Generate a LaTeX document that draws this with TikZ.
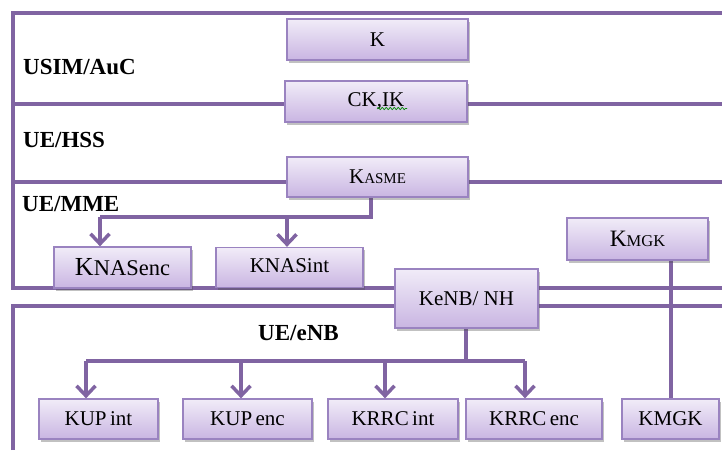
\documentclass[tikz,border=0pt]{standalone}
\usepackage{fontspec}
\setmainfont{LiberationSerif}[Extension=.ttf, UprightFont=*-Regular, BoldFont=*-Bold, ItalicFont=*-Italic, BoldItalicFont=*-BoldItalic]
\usetikzlibrary{arrows.meta,shadows,backgrounds,decorations.pathmorphing}
\definecolor{keyline}{HTML}{8064A2}
\definecolor{keyedge}{HTML}{9A83C0}
\definecolor{keytop}{HTML}{F1ECF8}
\definecolor{keybot}{HTML}{C9B5E2}
\newcommand{\fsz}[1]{\fontsize{#1}{#1}\selectfont}

\begin{document}
\begin{tikzpicture}[x=1pt,y=-1pt,
  keybox/.style={draw=keyedge, line width=1.3pt, top color=keytop, bottom color=keybot,
    inner sep=0pt, font=\rmfamily\fsz{21},
    drop shadow={shadow xshift=2pt, shadow yshift=-2.5pt, opacity=0.35, fill=black!70}},
  layer/.style={font=\rmfamily\bfseries\fsz{23}, anchor=base west, inner sep=0pt},
  wire/.style={draw=keyline, line width=3.5pt},
  feed/.style={wire, -{Straight Barb[length=10pt,width=19pt]}}
]
\useasboundingbox (0,0) rectangle (722,450);

% key boxes
\node[keybox, minimum width=181pt, minimum height=41pt] (k)     at (377.5,39.5) {K};
\node[keybox, minimum width=182pt, minimum height=41pt] (ckik)  at (376,101.5) {CK,IK};
\node[keybox, minimum width=181pt, minimum height=40pt] (kasme) at (377.5,177) {K{\fsz{15}ASME}};
\node[keybox, minimum width=137pt, minimum height=41pt] (nasenc) at (122.5,267.5) {{\fsz{26}K}{\fsz{22.5}NASenc}};
\node[keybox, minimum width=147pt, minimum height=40pt] (nasint) at (289.5,267.5) {\raisebox{4pt}{KNASint}};
\node[keybox, minimum width=141pt, minimum height=42pt] (mgktop) at (637.5,239) {{\fsz{23.5}K}{\fsz{16.5}MGK}};
\node[keybox, minimum width=143pt, minimum height=59pt] (kenb)  at (466.5,298.5) {KeNB/ NH};
\node[keybox, minimum width=119pt, minimum height=40pt] (upint) at (98.5,419) {KUP\,int};
\node[keybox, minimum width=129pt, minimum height=40pt] (upenc) at (247.5,419) {KUP\,enc};
\node[keybox, minimum width=130pt, minimum height=40pt] (rrcint) at (393,419) {KRRC\,int};
\node[keybox, minimum width=136pt, minimum height=40pt] (rrcenc) at (534,419) {KRRC\,enc};
\node[keybox, minimum width=97pt, minimum height=40pt] (mgkbot) at (670.5,419) {KMGK};

% spell-check squiggle under ",IK"
\draw[green!55!black, line width=0.7pt, decorate,
  decoration={snake, amplitude=1.2pt, segment length=4pt}]
  ([xshift=1pt,yshift=-7pt]ckik.center) -- ([xshift=31pt,yshift=-7pt]ckik.center);

% layer names
\node[layer] (lusim) at (23,74)  {USIM/AuC};
\node[layer] (lhss)  at (23,147) {UE/HSS};
\node[layer] (lmme)  at (22,211) {UE/MME};
\node[layer] (lenb)  at (258,340) {UE/eNB};

\begin{scope}[on background layer]
  % frame of the upper domains
  \path[wire] (722,13) -- (13,13) -- (13,288) -- (kenb.west |- 0,288);
  \path[wire] (kenb.east |- 0,288) -- (722,288);
  \path[wire] (13,104) -- (ckik.west |- 0,104);
  \path[wire] (ckik.east |- 0,104) -- (722,104);
  \path[wire] (13,182) -- (kasme.west |- 0,182);
  \path[wire] (kasme.east |- 0,182) -- (722,182);
  % frame of the eNB domain
  \path[wire] (13,450) -- (13,306) -- (kenb.west |- 0,306);
  \path[wire] (kenb.east |- 0,306) -- (722,306);
  % KASME derivations
  \coordinate (ka) at (371,217);
  \path[wire] (kasme.south -| ka) -- (ka) -- (100,217);
  \path[feed] (100,217) -- (nasenc.north -| 100,0);
  \path[feed] (287,217) -- (nasint.north -| 287,0);
  % KeNB derivations
  \coordinate (kb) at (466,361);
  \path[wire] (kenb.south -| kb) -- (kb);
  \path[wire] (86,361) -- (525,361);
  \path[feed] (86,361)  -- (upint.north -| 86,0);
  \path[feed] (241,361) -- (upenc.north -| 241,0);
  \path[feed] (385,361) -- (rrcint.north -| 385,0);
  \path[feed] (525,361) -- (rrcenc.north -| 525,0);
  % KMGK link
  \path[wire] (mgktop.south -| 671,0) -- (mgkbot.north -| 671,0);
\end{scope}
\end{tikzpicture}
\end{document}
